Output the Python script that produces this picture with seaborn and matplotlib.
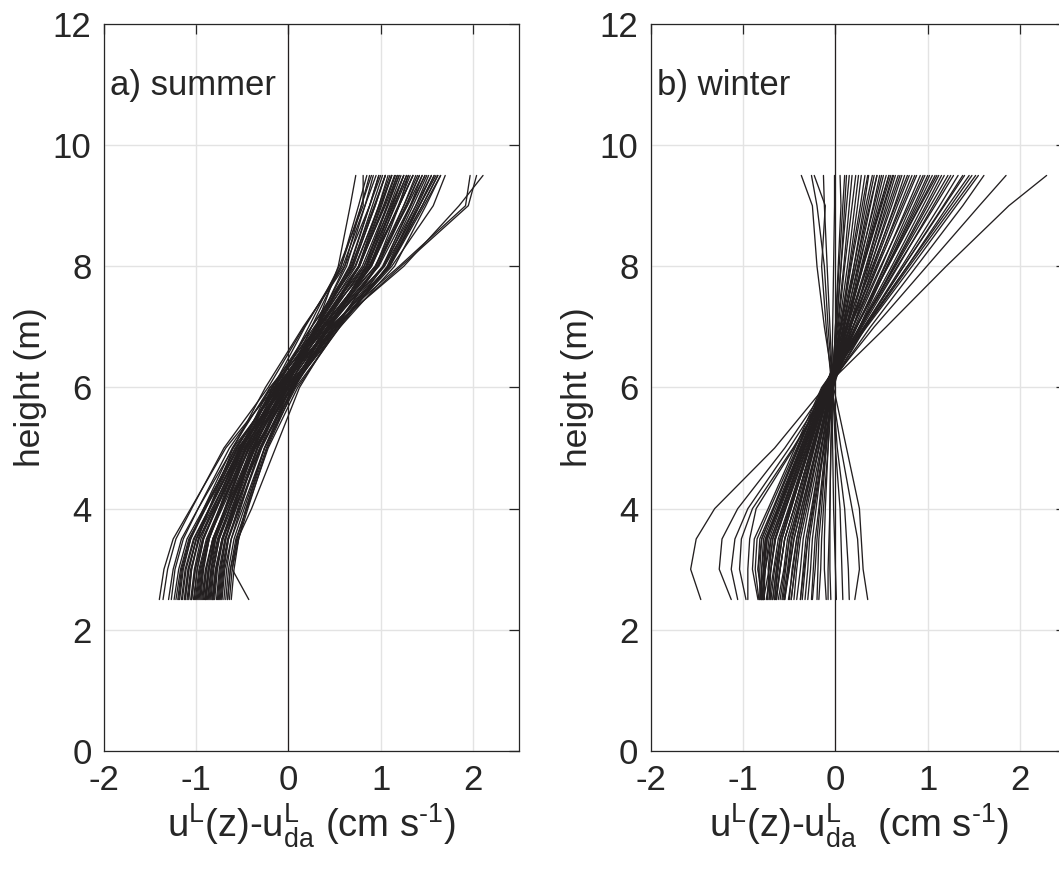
import matplotlib
matplotlib.use("Agg")
import matplotlib.pyplot as plt
import pandas as pd
import seaborn as sns

# ---------------- data ----------------
heights = [2.5, 3.0, 3.5, 4.0, 5.0, 6.0, 7.0, 8.0, 9.0, 9.5]

summer_u = [
    [-1.40, -1.35, -1.25, -1.06, -0.68, -0.15, 0.25, 0.68, 0.93, 1.05],
    [-1.36, -1.31, -1.22, -1.05, -0.70, -0.22, 0.17, 0.59, 0.83, 0.95],
    [-1.30, -1.25, -1.16, -0.98, -0.60, -0.10, 0.33, 0.80, 1.07, 1.20],
    [-1.27, -1.23, -1.14, -0.98, -0.64, -0.18, 0.36, 0.94, 1.29, 1.45],
    [-1.24, -1.19, -1.10, -0.92, -0.55, -0.05, 0.25, 0.57, 0.76, 0.85],
    [-1.20, -1.16, -1.07, -0.91, -0.57, -0.12, 0.37, 0.89, 1.20, 1.35],
    [-1.18, -1.14, -1.06, -0.92, -0.61, -0.20, 0.39, 1.04, 1.42, 1.60],
    [-1.15, -1.11, -1.02, -0.86, -0.53, -0.08, 0.31, 0.73, 0.98, 1.10],
    [-1.12, -1.08, -1.00, -0.86, -0.56, -0.15, 0.31, 0.82, 1.11, 1.25],
    [-1.10, -1.06, -0.97, -0.80, -0.46, 0.00, 0.50, 1.04, 1.35, 1.50],
    [-1.08, -1.05, -0.98, -0.86, -0.60, -0.25, 0.16, 0.61, 0.88, 1.00],
    [-1.05, -1.01, -0.93, -0.78, -0.48, -0.06, 0.39, 0.88, 1.16, 1.30],
    [-1.03, -0.99, -0.92, -0.78, -0.50, -0.12, 0.46, 1.10, 1.47, 1.65],
    [-1.00, -0.96, -0.88, -0.74, -0.43, -0.02, 0.29, 0.63, 0.83, 0.92],
    [-0.98, -0.94, -0.87, -0.74, -0.47, -0.10, 0.40, 0.94, 1.25, 1.40],
    [-0.96, -0.93, -0.86, -0.74, -0.50, -0.16, 0.28, 0.76, 1.05, 1.18],
    [-0.94, -0.90, -0.82, -0.68, -0.37, 0.04, 0.54, 1.08, 1.40, 1.55],
    [-0.92, -0.89, -0.82, -0.69, -0.43, -0.08, 0.29, 0.70, 0.94, 1.05],
    [-0.90, -0.87, -0.81, -0.69, -0.46, -0.14, 0.39, 0.98, 1.32, 1.48],
    [-0.88, -0.84, -0.77, -0.64, -0.36, 0.02, 0.44, 0.89, 1.15, 1.28],
    [-0.86, -0.83, -0.76, -0.64, -0.38, -0.04, 0.30, 0.66, 0.88, 0.98],
    [-0.84, -0.81, -0.75, -0.64, -0.41, -0.10, 0.47, 1.09, 1.45, 1.62],
    [-0.82, -0.78, -0.71, -0.58, -0.31, 0.06, 0.50, 0.97, 1.25, 1.38],
    [-0.80, -0.77, -0.71, -0.60, -0.37, -0.06, 0.34, 0.77, 1.03, 1.15],
    [-0.78, -0.75, -0.69, -0.57, -0.33, 0.00, 0.52, 1.12, 1.57, 1.70],
    [-0.76, -0.73, -0.68, -0.59, -0.39, -0.12, 0.22, 0.55, 0.81, 0.81],
    [-0.74, -0.71, -0.65, -0.53, -0.29, 0.03, 0.42, 0.85, 1.10, 1.22],
    [-0.72, -0.69, -0.62, -0.50, -0.26, 0.08, 0.56, 1.07, 1.38, 1.52],
    [-0.70, -0.67, -0.62, -0.52, -0.31, -0.02, 0.42, 0.90, 1.19, 1.32],
    [-0.68, -0.65, -0.59, -0.48, -0.26, 0.05, 0.39, 0.76, 0.98, 1.08],
    [-0.66, -0.63, -0.57, -0.45, -0.22, 0.10, 0.55, 1.03, 1.32, 1.45],
    [-0.64, -0.61, -0.56, -0.46, -0.26, 0.02, 0.30, 0.61, 0.79, 0.88],
    [-0.62, -0.59, -0.54, -0.44, -0.23, 0.06, 0.45, 0.88, 1.13, 1.25],
    [-0.43, -0.61, -0.54, -0.46, -0.24, 0.04, 0.42, 0.86, 1.12, 1.25],
    [-1.05, -1.01, -0.93, -0.79, -0.50, -0.10, 0.45, 1.20, 1.92, 1.97],
    [-0.90, -0.86, -0.79, -0.66, -0.39, -0.02, 0.50, 1.22, 1.95, 2.04],
    [-0.82, -0.79, -0.72, -0.60, -0.34, 0.00, 0.48, 1.25, 1.85, 2.11],
    [-1.12, -1.08, -1.00, -0.85, -0.52, -0.08, 0.30, 0.54, 0.67, 0.73],
    [-1.22, -1.17, -1.08, -0.90, -0.54, -0.05, 0.34, 0.76, 1.00, 1.12],
    [-0.99, -0.95, -0.87, -0.72, -0.42, 0.00, 0.52, 1.09, 1.42, 1.58],
    [-0.87, -0.84, -0.79, -0.68, -0.47, -0.18, 0.25, 0.72, 0.99, 1.12],
    [-0.77, -0.74, -0.68, -0.57, -0.34, -0.03, 0.45, 0.97, 1.28, 1.42],
    [-1.13, -1.09, -1.00, -0.83, -0.49, -0.02, 0.31, 0.67, 0.88, 0.98],
    [-0.95, -0.92, -0.86, -0.75, -0.52, -0.20, 0.31, 0.87, 1.20, 1.35],
    [-0.66, -0.63, -0.55, -0.40, -0.14, 0.12, 0.52, 0.95, 1.20, 1.30],
    [-1.16, -1.12, -1.03, -0.86, -0.52, -0.06, 0.43, 0.96, 1.27, 1.42],
    [-1.06, -1.02, -0.95, -0.81, -0.53, -0.14, 0.42, 1.03, 1.38, 1.55],
    [-1.01, -0.97, -0.89, -0.75, -0.45, -0.04, 0.37, 0.82, 1.08, 1.20],
    [-0.97, -0.93, -0.86, -0.73, -0.46, -0.09, 0.47, 1.09, 1.45, 1.62],
    [-0.93, -0.89, -0.82, -0.68, -0.40, -0.01, 0.36, 0.77, 1.01, 1.12],
    [-0.89, -0.86, -0.80, -0.68, -0.44, -0.11, 0.37, 0.90, 1.20, 1.35],
    [-0.85, -0.82, -0.75, -0.62, -0.36, 0.00, 0.49, 1.02, 1.33, 1.48],
    [-0.81, -0.78, -0.72, -0.61, -0.38, -0.07, 0.30, 0.70, 0.94, 1.05],
    [-0.75, -0.72, -0.66, -0.54, -0.30, 0.02, 0.53, 1.10, 1.42, 1.58],
    [-1.09, -1.05, -0.97, -0.82, -0.51, -0.09, 0.32, 0.77, 1.04, 1.16],
    [-1.19, -1.15, -1.06, -0.90, -0.58, -0.13, 0.34, 0.84, 1.14, 1.28],
    [-0.91, -0.87, -0.80, -0.66, -0.36, 0.03, 0.56, 1.15, 1.49, 1.65],
    [-0.73, -0.70, -0.65, -0.55, -0.34, -0.05, 0.30, 0.69, 0.91, 1.02],
    [-1.02, -0.99, -0.92, -0.79, -0.53, -0.17, 0.18, 0.57, 0.79, 0.90],
    [-0.83, -0.79, -0.72, -0.59, -0.31, 0.07, 0.44, 0.84, 1.07, 1.18],
]

winter_u = [
    [-1.46, -1.57, -1.51, -1.31, -0.66, -0.12, 0.55, 1.20, 1.88, 2.29],
    [-1.13, -1.26, -1.23, -1.06, -0.55, -0.10, 0.42, 0.99, 1.56, 1.85],
    [-1.06, -1.13, -1.09, -0.95, -0.50, -0.08, 0.38, 0.88, 1.38, 1.61],
    [-0.97, -1.04, -1.02, -0.90, -0.46, -0.06, 0.33, 0.80, 1.28, 1.52],
    [-0.95, -0.95, -0.93, -0.86, -0.45, -0.07, 0.32, 0.78, 1.22, 1.45],
    [0.35, 0.30, 0.28, 0.26, 0.12, -0.02, -0.12, -0.20, -0.25, -0.37],
    [0.21, 0.26, 0.24, 0.18, 0.06, -0.04, -0.10, -0.15, -0.11, -0.23],
    [0.15, 0.14, 0.12, 0.10, 0.02, -0.03, -0.08, -0.12, -0.20, -0.26],
    [0.08, 0.07, 0.06, 0.05, 0.00, -0.03, -0.06, -0.09, -0.12, -0.13],
    [0.01, 0.00, -0.01, -0.02, -0.03, -0.04, -0.03, -0.02, -0.01, -0.01],
    [-0.05, -0.06, -0.06, -0.06, -0.05, -0.03, 0.00, 0.03, 0.06, 0.05],
    [-0.08, -0.08, -0.07, -0.06, -0.05, -0.03, 0.00, 0.04, 0.08, 0.10],
    [-0.25, -0.22, -0.20, -0.17, -0.10, -0.04, 0.02, 0.09, 0.15, 0.18],
    [-0.36, -0.33, -0.30, -0.25, -0.15, -0.05, 0.03, 0.10, 0.18, 0.22],
    [-0.42, -0.38, -0.35, -0.29, -0.16, -0.03, 0.06, 0.15, 0.24, 0.28],
    [-0.50, -0.47, -0.42, -0.35, -0.20, -0.06, 0.05, 0.16, 0.27, 0.32],
    [-0.33, -0.30, -0.28, -0.23, -0.12, -0.02, 0.09, 0.20, 0.31, 0.36],
    [-0.60, -0.55, -0.50, -0.41, -0.24, -0.07, 0.06, 0.20, 0.33, 0.40],
    [-0.55, -0.50, -0.45, -0.37, -0.20, -0.04, 0.10, 0.24, 0.38, 0.45],
    [-0.66, -0.63, -0.58, -0.48, -0.28, -0.08, 0.09, 0.25, 0.42, 0.50],
    [-0.45, -0.42, -0.38, -0.31, -0.18, -0.05, 0.12, 0.29, 0.46, 0.55],
    [-0.75, -0.70, -0.65, -0.54, -0.31, -0.09, 0.11, 0.30, 0.50, 0.60],
    [-0.65, -0.60, -0.55, -0.45, -0.26, -0.06, 0.13, 0.33, 0.52, 0.62],
    [-0.80, -0.76, -0.70, -0.58, -0.34, -0.10, 0.12, 0.35, 0.57, 0.68],
    [-0.70, -0.66, -0.60, -0.49, -0.28, -0.07, 0.16, 0.38, 0.61, 0.72],
    [-0.82, -0.78, -0.74, -0.61, -0.36, -0.11, 0.14, 0.40, 0.65, 0.78],
    [-0.57, -0.52, -0.48, -0.40, -0.23, -0.06, 0.19, 0.45, 0.70, 0.83],
    [-0.78, -0.72, -0.68, -0.56, -0.33, -0.09, 0.19, 0.46, 0.74, 0.88],
    [-0.80, -0.80, -0.78, -0.65, -0.38, -0.12, 0.19, 0.49, 0.80, 0.95],
    [-0.72, -0.67, -0.62, -0.51, -0.30, -0.08, 0.23, 0.54, 0.85, 1.00],
    [-0.78, -0.76, -0.72, -0.60, -0.35, -0.10, 0.23, 0.56, 0.89, 1.05],
    [-0.82, -0.82, -0.80, -0.67, -0.40, -0.13, 0.22, 0.57, 0.92, 1.10],
    [-0.74, -0.70, -0.66, -0.55, -0.32, -0.09, 0.27, 0.64, 1.00, 1.18],
    [-0.81, -0.80, -0.76, -0.63, -0.38, -0.12, 0.26, 0.65, 1.03, 1.22],
    [-0.80, -0.84, -0.82, -0.68, -0.41, -0.14, 0.27, 0.67, 1.08, 1.28],
    [-0.70, -0.73, -0.70, -0.58, -0.34, -0.10, 0.31, 0.72, 1.13, 1.33],
    [-0.83, -0.87, -0.85, -0.71, -0.42, -0.13, 0.31, 0.74, 1.18, 1.40],
    [-0.84, -0.90, -0.88, -0.73, -0.44, -0.15, 0.32, 0.78, 1.25, 1.48],
    [-0.18, -0.16, -0.15, -0.13, -0.08, -0.03, 0.01, 0.06, 0.10, 0.12],
    [-0.26, -0.24, -0.22, -0.18, -0.11, -0.03, 0.12, 0.26, 0.41, 0.48],
    [-0.62, -0.56, -0.52, -0.43, -0.25, -0.07, 0.12, 0.30, 0.49, 0.58],
    [-0.64, -0.60, -0.55, -0.45, -0.26, -0.07, 0.21, 0.50, 0.78, 0.92],
    [-0.48, -0.44, -0.40, -0.33, -0.18, -0.04, 0.19, 0.41, 0.64, 0.75],
    [-0.68, -0.64, -0.60, -0.50, -0.29, -0.08, 0.26, 0.61, 0.95, 1.12],
    [-0.10, -0.12, -0.12, -0.11, -0.08, -0.05, 0.08, 0.22, 0.35, 0.42],
    [-0.78, -0.84, -0.80, -0.67, -0.40, -0.14, 0.34, 0.83, 1.31, 1.55],
    [-0.38, -0.34, -0.30, -0.24, -0.13, -0.02, 0.17, 0.36, 0.55, 0.65],
    [-0.56, -0.50, -0.45, -0.37, -0.21, -0.05, 0.26, 0.56, 0.87, 1.02],
    [-0.48, -0.44, -0.40, -0.33, -0.18, -0.04, 0.04, 0.13, 0.21, 0.25],
    [-0.64, -0.60, -0.55, -0.45, -0.26, -0.06, 0.06, 0.17, 0.29, 0.35],
    [-0.72, -0.70, -0.65, -0.54, -0.31, -0.08, 0.07, 0.22, 0.37, 0.45],
    [-0.38, -0.35, -0.32, -0.26, -0.15, -0.03, 0.13, 0.28, 0.44, 0.52],
    [-0.79, -0.78, -0.75, -0.62, -0.36, -0.10, 0.09, 0.29, 0.48, 0.58],
    [-0.51, -0.46, -0.42, -0.35, -0.20, -0.05, 0.16, 0.38, 0.59, 0.70],
    [-0.68, -0.64, -0.60, -0.50, -0.29, -0.09, 0.16, 0.42, 0.67, 0.80],
    [-0.77, -0.78, -0.76, -0.63, -0.38, -0.12, 0.16, 0.44, 0.72, 0.86],
    [-0.58, -0.54, -0.50, -0.41, -0.24, -0.06, 0.23, 0.53, 0.82, 0.97],
    [-0.74, -0.72, -0.68, -0.57, -0.34, -0.11, 0.23, 0.57, 0.91, 1.08],
    [-0.66, -0.62, -0.58, -0.48, -0.29, -0.09, 0.29, 0.68, 1.06, 1.25],
    [-0.79, -0.77, -0.74, -0.62, -0.37, -0.12, 0.31, 0.74, 1.17, 1.38],
    [-0.30, -0.27, -0.25, -0.21, -0.13, -0.05, 0.01, 0.06, 0.12, 0.15],
    [-0.20, -0.19, -0.18, -0.15, -0.10, -0.04, 0.15, 0.34, 0.53, 0.63],
    [-0.55, -0.51, -0.47, -0.39, -0.23, -0.07, 0.28, 0.63, 0.98, 1.15],
]

panel_titles = ["a) summer", "b) winter"]
x_labels = [r"$\mathregular{u^L(z)\text{-}u^L_{da}\ (cm\ s^{\text{-}1})}$",
            r"$\mathregular{u^L(z)\text{-}u^L_{da}\ \ (cm\ s^{\text{-}1})}$"]
y_label = "height (m)"
x_ticks = [-2, -1, 0, 1, 2]
y_ticks = [0, 2, 4, 6, 8, 10, 12]


def to_long(profiles):
    rows = []
    for k, prof in enumerate(profiles):
        for h, u in zip(heights, prof):
            rows.append((k, h, u))
    return pd.DataFrame(rows, columns=["profile", "height", "u"])


sns.set_theme(style="white")
plt.rcParams["font.family"] = ["Liberation Sans", "DejaVu Sans"]
plt.rcParams["mathtext.fontset"] = "custom"
plt.rcParams["mathtext.rm"] = "Liberation Sans"
plt.rcParams["mathtext.it"] = "Liberation Sans"
plt.rcParams["axes.unicode_minus"] = False

W, H = 1059, 873
fig = plt.figure(figsize=(W / 100, H / 100), dpi=100)
ax_pos = [[104 / W, 122 / H, 415 / W, 727 / H],
          [651 / W, 122 / H, 415 / W, 727 / H]]

line_col = "#231f20"
FS = 25

for pos, profiles, title, xlab in zip(ax_pos, [summer_u, winter_u], panel_titles, x_labels):
    ax = fig.add_axes(pos)
    df = to_long(profiles)
    sns.lineplot(data=df, x="u", y="height", units="profile", estimator=None,
                 sort=False, color=line_col, linewidth=0.95, ax=ax, legend=False)
    ax.axvline(0, color=line_col, linewidth=0.9, zorder=1)
    ax.set_xlim(-2, 2.5)
    ax.set_ylim(0, 12)
    ax.set_xticks(x_ticks)
    ax.set_yticks(y_ticks)
    ax.set_xticklabels([str(t) for t in x_ticks])
    ax.set_yticklabels([str(t) for t in y_ticks])
    ax.grid(True, color="#e3e3e3", linewidth=1.0)
    ax.set_axisbelow(True)
    ax.tick_params(direction="in", top=True, right=True, length=7, width=0.9,
                   labelsize=FS, pad=9, colors="#262626")
    for s in ax.spines.values():
        s.set_color("#262626")
        s.set_linewidth(0.9)
    ax.set_ylabel(y_label, fontsize=FS + 0.5, labelpad=4, color="#262626")
    ax.set_xlabel(xlab, fontsize=FS + 2.5, labelpad=4, color="#262626")
    ax.text(0.015, 0.916, title, transform=ax.transAxes, fontsize=FS,
            ha="left", va="center", color="#262626")

fig.savefig("out.png", dpi=100)
